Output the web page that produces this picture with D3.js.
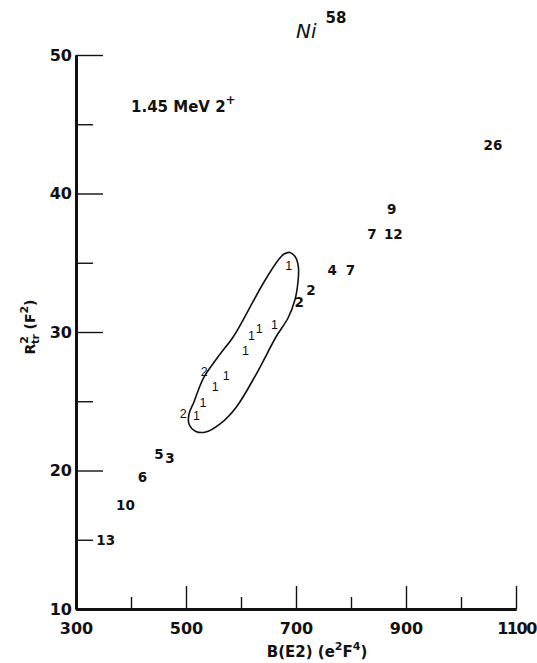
<!DOCTYPE html>
<html>
<head>
<meta charset="utf-8">
<script src="https://cdn.jsdelivr.net/npm/d3@7"></script>
<style>
  body { margin: 0; background: #fff; }
  svg { display: block; }
</style>
</head>
<body>
<div id="chart-area"></div>
<script>
// points drawn with heavy lettering, outside the loop
let outerLabels = ["26", "9", "7", "12", "4", "7", "2", "2", "5", "3", "6", "10", "13"]
let outerBE2 = [1058, 874, 838, 877, 766, 799, 706, 727, 451, 471, 421, 390, 354]
let outerR2 = [43.5, 38.9, 37.1, 37.1, 34.5, 34.5, 32.2, 33.0, 21.2, 20.9, 19.5, 17.5, 15.0]

// points in light lettering, inside/along the loop
let innerLabels = ["1", "1", "1", "1", "1", "2", "1", "1", "1", "2", "1"]
let innerBE2 = [687, 661, 633, 619, 608, 533, 573, 553, 531, 495, 519]
let innerR2 = [34.8, 30.5, 30.2, 29.7, 28.6, 27.1, 26.8, 26.05, 24.85, 24.1, 23.9]

// closed loop drawn around the "1" group
let loopBE2 = [689, 700, 704.5, 703.6, 698, 685.5, 663.6, 628.5, 592, 562, 536, 518, 505.5, 505.5, 514.5, 531.5, 558, 586, 610.4, 640.5, 667.8, 678.2]
let loopR2 = [35.74, 35.34, 34.62, 33.61, 32.31, 31.01, 29.64, 27.02, 24.61, 23.36, 22.78, 22.82, 23.36, 24.08, 24.95, 26.66, 28.19, 29.66, 31.35, 33.52, 35.2, 35.63]

let xMajorTicks = [300, 500, 700, 900, 1100]
let xMinorTicks = [400, 600, 800, 1000]
let yMajorTicks = [10, 20, 30, 40, 50]
let yMinorTicks = [15, 25, 35, 45]

let margin = { top: 55, right: 21, bottom: 54, left: 76 }
let canvasWidth = 537 - margin.left - margin.right
let canvasHeight = 663 - margin.top - margin.bottom

let svg = d3.select("#chart-area").append("svg")
  .attr("width", 537)
  .attr("height", 663)

let g = svg.append("g")
  .attr("transform", "translate(" + margin.left + "," + margin.top + ")")

let x = d3.scaleLinear().domain([300, 1100]).range([0, canvasWidth])
let y = d3.scaleLinear().domain([10, 50]).range([canvasHeight, 0])

let font = "'DejaVu Sans', sans-serif"

// axes (ticks point inward)
let yMajor = g.append("g")
  .call(d3.axisLeft(y).tickValues(yMajorTicks).tickSizeInner(-27).tickSizeOuter(0).tickPadding(4))
let yMinor = g.append("g")
  .call(d3.axisLeft(y).tickValues(yMinorTicks).tickSizeInner(-17).tickSizeOuter(0).tickFormat(""))
let xMajor = g.append("g")
  .attr("transform", "translate(0," + canvasHeight + ")")
  .call(d3.axisBottom(x).tickValues(xMajorTicks).tickSizeInner(-23).tickSizeOuter(0).tickPadding(14).tickFormat(d3.format("d")))
let xMinor = g.append("g")
  .attr("transform", "translate(0," + canvasHeight + ")")
  .call(d3.axisBottom(x).tickValues(xMinorTicks).tickSizeInner(-12).tickSizeOuter(0).tickFormat(""))

g.selectAll(".domain").attr("stroke", "#111").attr("stroke-width", 3)
g.selectAll(".tick line").attr("stroke", "#111").attr("stroke-width", 1.4)
g.selectAll(".tick text")
  .attr("fill", "#111")
  .style("font-family", font)
  .style("font-size", "16px")
  .style("font-weight", "bold")
// the hand-lettered 1100 has narrow ones
xMajor.selectAll(".tick text").filter(d => d >= 1000).style("letter-spacing", "-1.5px")

// loop
let loopPts = loopBE2.map((v, i) => [v, loopR2[i]])
g.append("path")
  .datum(loopPts)
  .attr("fill", "none")
  .attr("stroke", "#111")
  .attr("stroke-width", 1.6)
  .attr("d", d3.line().x(d => x(d[0])).y(d => y(d[1])).curve(d3.curveCatmullRomClosed.alpha(0.5)))

// numbered points
g.selectAll(".outer")
  .data(outerLabels)
  .enter().append("text")
    .attr("class", "outer")
    .attr("x", (d, i) => x(outerBE2[i]))
    .attr("y", (d, i) => y(outerR2[i]))
    .attr("text-anchor", "middle")
    .attr("dominant-baseline", "central")
    .style("font-family", font)
    .style("font-size", "13.5px")
    .style("font-weight", "bold")
    .attr("fill", "#111")
    .text(d => d)

g.selectAll(".inner")
  .data(innerLabels)
  .enter().append("text")
    .attr("class", "inner")
    .attr("x", (d, i) => x(innerBE2[i]))
    .attr("y", (d, i) => y(innerR2[i]))
    .attr("text-anchor", "middle")
    .attr("dominant-baseline", "central")
    .style("font-family", "'Liberation Sans', sans-serif")
    .style("font-size", "12.5px")
    .attr("fill", "#111")
    .text(d => d)

// title
let title = svg.append("text")
  .attr("x", 296)
  .attr("y", 38)
  .style("font-family", font)
  .style("font-size", "20px")
  .style("font-style", "italic")
  .attr("fill", "#111")
title.append("tspan").text("Ni")
title.append("tspan").attr("dx", 9).attr("dy", -15).style("font-size", "15px").style("font-weight", "bold").style("font-style", "normal").text("58")

let state = svg.append("text")
  .attr("x", 131)
  .attr("y", 112)
  .style("font-family", font)
  .style("font-size", "15px")
  .style("font-weight", "bold")
  .attr("fill", "#111")
state.append("tspan").text("1.45 MeV  2")
state.append("tspan").attr("dy", -8).style("font-size", "12px").text("+")

// axis labels
let xLabel = svg.append("text")
  .attr("x", 317)
  .attr("y", 657)
  .attr("text-anchor", "middle")
  .style("font-family", font)
  .style("font-size", "15px")
  .style("font-weight", "bold")
  .attr("fill", "#111")
xLabel.append("tspan").text("B(E2) (e")
xLabel.append("tspan").attr("dy", -7).style("font-size", "11px").text("2")
xLabel.append("tspan").attr("dy", 7).text("F")
xLabel.append("tspan").attr("dy", -7).style("font-size", "11px").text("4")
xLabel.append("tspan").attr("dy", 7).text(")")

let yLabel = svg.append("text")
  .attr("transform", "translate(35,327) rotate(-90)")
  .attr("text-anchor", "middle")
  .style("font-family", font)
  .style("font-size", "14px")
  .style("font-weight", "bold")
  .attr("fill", "#111")
yLabel.append("tspan").text("R")
yLabel.append("tspan").attr("dy", -7).style("font-size", "11px").text("2")
yLabel.append("tspan").attr("dx", -8).attr("dy", 11).style("font-size", "10px").text("tr")
yLabel.append("tspan").attr("dy", -4).text(" (F")
yLabel.append("tspan").attr("dy", -7).style("font-size", "11px").text("2")
yLabel.append("tspan").attr("dy", 7).text(")")
</script>
</body>
</html>
